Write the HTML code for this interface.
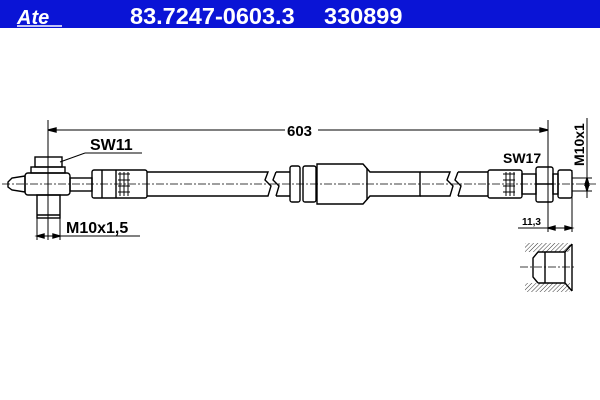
<!DOCTYPE html>
<html><head><style>
body{margin:0;width:600px;height:400px;background:#fff;overflow:hidden}
svg{display:block}
text{font-family:"Liberation Sans",sans-serif;font-weight:bold}
</style></head><body>
<svg width="600" height="400" viewBox="0 0 600 400">
<defs>
<pattern id="h" width="3" height="3" patternUnits="userSpaceOnUse" patternTransform="rotate(45)">
<line x1="0" y1="0" x2="0" y2="3" stroke="#000" stroke-width="0.8"/></pattern>
</defs>
<rect x="0" y="0" width="600" height="28" fill="#0a14d6"/>
<text x="17" y="24" fill="#fff" font-size="20" font-style="italic" font-family="Liberation Serif">Ate</text>
<line x1="17" y1="26" x2="62" y2="26" stroke="#fff" stroke-width="1.5"/>
<text x="130" y="24" fill="#fff" font-size="23.5">83.7247-0603.3</text>
<text x="324" y="24" fill="#fff" font-size="23.5">330899</text>

<g stroke="#000" fill="none" stroke-width="1.4">
<line x1="48" y1="120" x2="48" y2="240" stroke-width="1"/>
<line x1="548" y1="120" x2="548" y2="232" stroke-width="1"/>
<line x1="48" y1="130" x2="285" y2="130" stroke-width="1"/>
<line x1="318" y1="130" x2="548" y2="130" stroke-width="1"/>
<path d="M48 130 l8 -2 v4z M548 130 l-8 -2 v4z" fill="#000"/>
<line x1="85" y1="153" x2="142" y2="153" stroke-width="1"/>
<line x1="85" y1="153" x2="60" y2="162" stroke-width="1"/>
<path d="M25 176 L12 178 L8 182 L8 187 L12 190 L25 192 Z"/>
<rect x="25" y="173" width="45" height="22" rx="3"/>
<rect x="31" y="167" width="34" height="6"/>
<rect x="35" y="157" width="27" height="10"/>
<rect x="37" y="195" width="23" height="23"/>
<line x1="37" y1="215" x2="60" y2="215"/>
<rect x="70" y="178" width="22" height="13"/>
<rect x="92" y="170" width="55" height="28" rx="2"/>
<line x1="102" y1="170" x2="102" y2="198"/>
<line x1="116" y1="170" x2="116" y2="198"/>
<path d="M118 174 h12 M118 180 h12 M118 186 h12 M118 192 h12 M120 172 v24 M124 172 v24 M128 172 v24" stroke-width="1"/>
<line x1="37" y1="218" x2="37" y2="240" stroke-width="1"/>
<line x1="60" y1="218" x2="60" y2="240" stroke-width="1"/>
<line x1="37" y1="236" x2="140" y2="236" stroke-width="1"/>
<path d="M37 236 l7 -2 v4z M60 236 l-7 -2 v4z" fill="#000"/>
<path d="M147 172 H268 L265 180 L271 186 L268 196 H147"/>
<path d="M276 172 H290 M276 196 H290 M276 172 L273 180 L279 186 L276 196"/>
<rect x="290" y="166" width="10" height="36" rx="2"/>
<rect x="303" y="166" width="13" height="36" rx="2"/>
<path d="M317 164 H363 L370 172 H420 V196 H370 L363 204 H317 Z"/>
<line x1="367" y1="168" x2="367" y2="200"/>
<path d="M420 172 H450 L447 180 L453 186 L450 196 H420"/>
<path d="M458 172 H488 M458 196 H488 M458 172 L455 180 L461 186 L458 196"/>
<rect x="488" y="170" width="34" height="28" rx="2"/>
<path d="M503 174 h12 M503 180 h12 M503 186 h12 M503 192 h12 M506 172 v24 M510 172 v24 M514 172 v24" stroke-width="1"/>
<rect x="522" y="174" width="14" height="20"/>
<rect x="536" y="167" width="17" height="35" rx="2"/>
<line x1="536" y1="184" x2="553" y2="184"/>
<rect x="553" y="174" width="5" height="20"/>
<rect x="558" y="170" width="14" height="28" rx="2"/>
<line x1="572" y1="170" x2="572" y2="232" stroke-width="1"/>
<line x1="587" y1="118" x2="587" y2="198" stroke-width="1"/>
<line x1="572" y1="178" x2="592" y2="178" stroke-width="1"/>
<line x1="572" y1="191" x2="592" y2="191" stroke-width="1"/>
<path d="M587 178 l-2 7 h4z M587 191 l-2 -7 h4z" fill="#000"/>
<line x1="518" y1="228" x2="572" y2="228" stroke-width="1"/>
<path d="M548 228 l7 -2 v4z M572 228 l-7 -2 v4z" fill="#000"/>
<rect x="525" y="243" width="45" height="9" fill="url(#h)" stroke="none"/>
<rect x="525" y="283" width="45" height="9" fill="url(#h)" stroke="none"/>
<path d="M525 252 H538 L533 258 V277 L538 283 H525" fill="#fff" stroke="none"/>
<path d="M538 252 H565 L572 244 M538 283 H565 L572 291 M538 252 L533 258 V277 L538 283 M545 252 V283 M565 252 V283 M572 244 V291"/>
</g>
<g stroke="#000" stroke-width="0.7" stroke-dasharray="8 2 2 2" fill="none">
<line x1="2" y1="184" x2="596" y2="184"/>
<line x1="48" y1="150" x2="48" y2="225"/>
<line x1="520" y1="267" x2="575" y2="267"/>
</g>
<text x="287" y="136" font-size="15">603</text>
<text x="90" y="150" font-size="16">SW11</text>
<text x="66" y="233" font-size="16">M10x1,5</text>
<text x="503" y="163" font-size="14">SW17</text>
<text x="522" y="225" font-size="10">11,3</text>
<text transform="translate(584,166) rotate(-90)" font-size="14">M10x1</text>
</svg>
</body></html>
